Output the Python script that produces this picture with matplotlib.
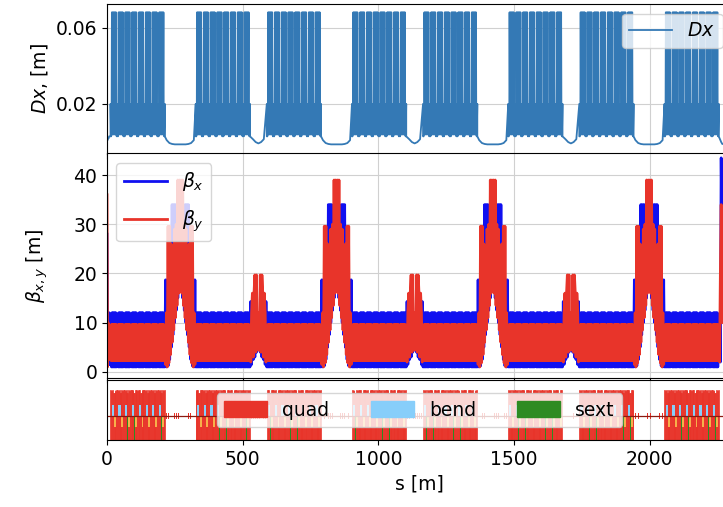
import numpy as np
import matplotlib
matplotlib.use("Agg")
import matplotlib.pyplot as plt
import matplotlib.patches as mpatches

plt.rcParams['font.size'] = 13.5

# ---- lattice layout [m] ----
ring_len = 2304.0
arc_start = [13, 327, 589, 903, 1165, 1479, 1741, 2055]
cells_per_arc = 8
cell_len = 25.0
long_straight = [270, 846, 1422, 1998]
short_straight = [558, 1134, 1710]

# one arc cell (positions as fraction of the cell length)
cell_pos = [0.0, 0.07, 0.14, 0.21, 0.28, 0.35, 0.42, 0.50, 0.58, 0.65, 0.72, 0.79, 0.86, 0.93, 1.0]
cell_bx = [3.0, 9.0, 1.0, 12.0, 1.0, 12.0, 1.0, 12.0, 1.0, 12.0, 1.0, 12.0, 1.0, 9.0, 3.0]
cell_by = [6.0, 2.3, 9.6, 2.3, 9.6, 2.3, 9.6, 2.3, 9.6, 2.3, 9.6, 2.3, 9.6, 2.3, 6.0]
dx_pos = [0.0, 0.08, 0.15, 0.20, 0.275, 0.35, 0.425, 0.50, 0.575, 0.65, 0.725, 0.80, 0.85, 0.92, 1.0]
cell_dx = [0.020, 0.003, 0.004, 0.068, 0.004, 0.068, 0.004, 0.068, 0.004, 0.068, 0.004, 0.068, 0.004, 0.003, 0.020]

# long straight, half profile (offset from centre, mirrored)
long_off = [-57, -54, -51, -48, -45, -42, -39, -36, -33, -30, -27, -24, -21, -18, -15, -12, -9, -6, -3, 0]
long_bx = [1.0, 18.7, 1.0, 18.7, 1.2, 12.0, 2.5, 15.0, 5.0, 34.0, 7.5, 34.0, 10.0, 34.0, 12.5, 30.0, 15.0, 26.0, 17.5, 19.5]
long_by = [6.0, 1.5, 12.0, 1.0, 29.6, 1.8, 29.6, 3.5, 26.0, 6.0, 24.0, 8.5, 29.0, 11.0, 30.0, 13.5, 39.0, 16.0, 39.0, 22.0]
long_dx_off = [-57, -50, -40, -30, -20, -10, 0]
long_dx = [0.003, 0.001, -0.0005, -0.001, -0.0012, -0.0012, -0.0012]

# short straight, half profile
short_off = [-31, -28, -25, -22, -19, -16, -13, -10, -7, -4, -2, 0]
short_bx = [1.0, 14.3, 1.5, 12.0, 2.5, 15.0, 3.0, 15.0, 4.0, 12.0, 6.0, 8.0]
short_by = [6.0, 2.0, 12.0, 16.0, 3.0, 16.0, 19.7, 4.0, 19.7, 5.0, 12.0, 4.4]
short_dx_off = [-31, -20, -10, 0]
short_dx = [0.003, 0.0015, 0.0, -0.0007]

# injection region at start / end of the ring
start_s = [0, 2, 4, 6, 8, 10, 13]
start_bx = [28.0, 2.0, 12.0, 1.5, 12.0, 1.5, 3.0]
start_by = [36.0, 1.0, 10.0, 2.5, 9.6, 2.5, 6.0]
start_dx = [0.001, 0.001, 0.002, 0.002, 0.003, 0.003, 0.003]
end_s = [2255, 2258, 2261, 2264, 2268, 2275, 2290, 2304]
end_bx = [3.0, 10.0, 2.0, 43.5, 20.0, 40.0, 30.0, 28.0]
end_by = [6.0, 2.0, 20.0, 34.0, 10.0, 30.0, 36.0, 36.0]
end_dx = [0.003, 0.002, 0.001, 0.0, -0.001, -0.001, 0.001, 0.001]

# elements in one arc cell [m from cell start]
quad_pos = [1.5, 4.5, 7.5, 10.5, 13.5, 16.5, 19.5, 22.5]
quad_h = [1.0, 0.95, 1.0, 0.9, 0.9, 1.0, 0.95, 1.0]
bend_pos = [8.0]
multi_pos = [18.0]
sext_pos = [13.0]
sext_h = [-0.9]
# weak quads in the straights
long_quad_off = [-50, -44, -38, -30, -22, -14, -6, 6, 14, 22, 30, 38, 44, 50]
short_quad_off = [-26, -18, -10, -4, 4, 10, 18, 26]


def mirror(off, vals):
    off = np.asarray(off, float)
    vals = np.asarray(vals, float)
    return np.concatenate([off, -off[::-1][1:]]), np.concatenate([vals, vals[::-1][1:]])


sb, bxl, byl = [np.asarray(start_s, float)], [start_bx], [start_by]
sd, dxl = [np.asarray(start_s, float)], [start_dx]
for a in arc_start:
    for k in range(cells_per_arc):
        s0 = a + k * cell_len
        sb.append(s0 + np.asarray(cell_pos) * cell_len); bxl.append(cell_bx); byl.append(cell_by)
        sd.append(s0 + np.asarray(dx_pos) * cell_len); dxl.append(cell_dx)
for centres, off, vx, vy, doff, dv in [(long_straight, long_off, long_bx, long_by, long_dx_off, long_dx),
                                        (short_straight, short_off, short_bx, short_by, short_dx_off, short_dx)]:
    o, x = mirror(off, vx)
    _, y = mirror(off, vy)
    od, d = mirror(doff, dv)
    for c in centres:
        sb.append(c + o); bxl.append(x); byl.append(y)
        sd.append(c + od); dxl.append(d)
sb.append(np.asarray(end_s, float)); bxl.append(end_bx); byl.append(end_by)
sd.append(np.asarray(end_s, float)); dxl.append(end_dx)

sb = np.concatenate(sb); bx = np.concatenate([np.asarray(v, float) for v in bxl])
by = np.concatenate([np.asarray(v, float) for v in byl])
i = np.argsort(sb, kind='stable'); sb, bx, by = sb[i], bx[i], by[i]
sd = np.concatenate(sd); dx = np.concatenate([np.asarray(v, float) for v in dxl])
i = np.argsort(sd, kind='stable'); sd, dx = sd[i], dx[i]

# element lists
q_s, q_h, b_s, m_s, x_s, x_h = [], [], [], [], [], []
for a in arc_start:
    for k in range(cells_per_arc):
        s0 = a + k * cell_len
        q_s += [s0 + p for p in quad_pos]; q_h += quad_h
        b_s += [s0 + p for p in bend_pos]
        m_s += [s0 + p for p in multi_pos]
        x_s += [s0 + p for p in sext_pos]; x_h += sext_h
wq_s = [c + o for c in long_straight for o in long_quad_off] + [c + o for c in short_straight for o in short_quad_off]

red = '#e8342a'
fig = plt.figure(figsize=(7.23, 5.07), dpi=100)
W = 0.8645
ax_d = fig.add_axes([0.148, 0.6972, W, 0.2943])
ax_b = fig.add_axes([0.148, 0.2535, W, 0.4438], sharex=ax_d)
ax_e = fig.add_axes([0.148, 0.1321, W, 0.1183], sharex=ax_d)

ax_d.plot(sd, dx, color='#3479b5', lw=1.3, label='$Dx$')
ax_d.set_ylim(-0.006, 0.0722)
ax_d.set_yticks([0.02, 0.06])
ax_d.set_ylabel('$Dx$, [m]')
ax_d.legend(loc='upper right', handlelength=2.3)

ax_b.plot(sb, bx, color='#1010f0', lw=2, label=r'$\beta_x$')
ax_b.plot(sb, by, color=red, lw=2, label=r'$\beta_y$')
ax_b.set_ylim(-1.35, 44.4)
ax_b.set_yticks([0, 10, 20, 30, 40])
ax_b.set_ylabel(r'$\beta_{x,y}$ [m]')
ax_b.legend(loc='upper left', handlelength=2.3, labelspacing=0.8)

ax_e.bar(q_s, [2 * h for h in q_h], width=3.6, bottom=[-h for h in q_h], color=red, lw=0.5, edgecolor=red)
ax_e.bar(wq_s, 0.24, width=2.0, bottom=-0.12, color=red, lw=0)
ax_e.plot([0, ring_len], [0, 0], color='#8b1a10', lw=0.9)
ax_e.bar(b_s, 0.42, width=8.0, bottom=0, color='lightskyblue', lw=0)
ax_e.bar(m_s, -0.42, width=7.0, bottom=0, color='#f7b04a', lw=0)
ax_e.bar(x_s, x_h, width=1.6, bottom=0, color='#2e8b22', lw=0)
ax_e.set_ylim(-0.92, 1.385)
ax_e.set_yticks([])
ax_e.set_xlabel('s [m]')
handles = [mpatches.Patch(color=red, label='quad'),
           mpatches.Patch(color='lightskyblue', label='bend'),
           mpatches.Patch(color='#2e8b22', label='sext')]
ax_e.legend(handles=handles, loc='center', ncol=3, handlelength=2.3, handleheight=0.9, columnspacing=2.2)

for ax in (ax_d, ax_b, ax_e):
    ax.grid(True, color='#d0d0d0', lw=0.8)
    ax.set_axisbelow(True)
    ax.set_xlim(0, ring_len)
    ax.yaxis.set_label_coords(-0.091, 0.5)
plt.setp(ax_d.get_xticklabels(), visible=False)
plt.setp(ax_b.get_xticklabels(), visible=False)
ax_e.set_xticks([0, 500, 1000, 1500, 2000])

fig.savefig('out.png', dpi=100)
